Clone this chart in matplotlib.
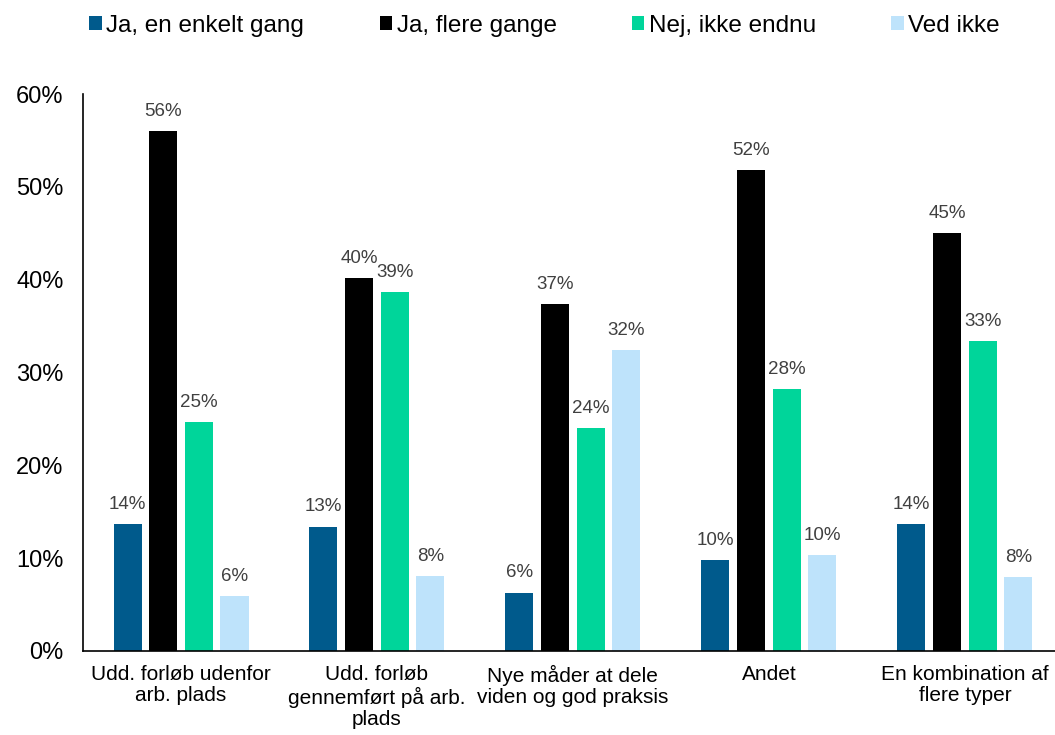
import numpy as np
from matplotlib import pyplot as plt

plt.rcParams['font.family'] = ['Liberation Sans', 'DejaVu Sans']

# Data
categories = ["Udd. forløb udenfor\narb. plads",
              "Udd. forløb\ngennemført på arb.\nplads",
              "Nye måder at dele\nviden og god praksis",
              "Andet",
              "En kombination af\nflere typer"]
series_names = ["Ja, en enkelt gang", "Ja, flere gange", "Nej, ikke endnu", "Ved ikke"]
enkelt = [13.7, 13.4, 6.3, 9.8, 13.7]
flere = [56.0, 40.2, 37.4, 51.8, 45.0]
nej = [24.7, 38.7, 24.0, 28.2, 33.4]
ved_ikke = [5.9, 8.1, 32.4, 10.3, 8.0]
colors = ["#005A8C", "#000000", "#00D59A", "#BEE3FB"]

# Create figure
fig = plt.figure(figsize=(10.55, 7.35), dpi=100)
ax = fig.add_axes([0.0787, 0.1143, 0.9213, 0.7577])

x = np.arange(len(categories))
pitch = 0.182
width = 0.143
for i, (name, vals, col) in enumerate(zip(series_names, [enkelt, flere, nej, ved_ikke], colors)):
    pos = x + (i - 1.5) * pitch
    ax.bar(pos, vals, width=width, color=col, label=name)
    for p, v in zip(pos, vals):
        ax.text(p, v + 1.2, f"{v:.0f}%", ha="center", va="bottom", fontsize=13.5, color="#404040")

ax.set_xlim(-0.5, 4.46)
ax.set_ylim(0, 60)
ax.set_yticks(range(0, 61, 10))
ax.set_yticklabels([f"{t}%" for t in range(0, 61, 10)], fontsize=17)
ax.set_xticks(x)
ax.set_xticklabels(categories, fontsize=15, linespacing=1.15)
ax.tick_params(axis="both", length=0)
ax.tick_params(axis="x", pad=10)
ax.tick_params(axis="y", pad=14)

# Remove top/right spines
ax.spines['top'].set_visible(False)
ax.spines['right'].set_visible(False)
ax.spines['left'].set_linewidth(1.2)
ax.spines['bottom'].set_linewidth(1.2)

fig.legend(loc="upper left", bbox_to_anchor=(0.064, 1.01), ncol=4, frameon=False,
           fontsize=17.5, handlelength=0.5, handleheight=0.5, handletextpad=0.2,
           columnspacing=3.1)

plt.savefig("out.png", dpi=100)
